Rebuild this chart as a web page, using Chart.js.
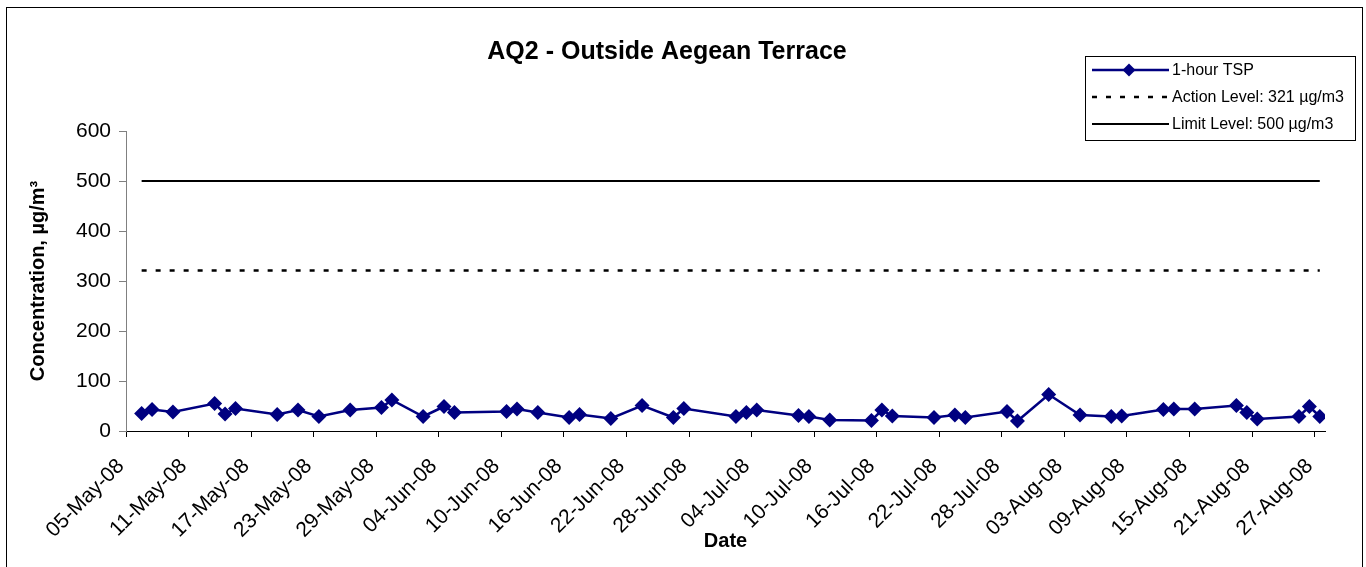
<!DOCTYPE html>
<html>
<head>
<meta charset="utf-8">
<script src="https://cdn.jsdelivr.net/npm/chart.js@4.4.0/dist/chart.umd.min.js"></script>
<style>
  html, body { margin: 0; padding: 0; background: #fff; }
  #wrap { width: 1366px; height: 567px; position: relative; }
</style>
</head>
<body>
<div id="wrap"><canvas id="c" width="1366" height="567"></canvas></div>
<script>
// ---------- DATA ----------
const chartTitle = 'AQ2 - Outside Aegean Terrace';
const xAxisTitle = 'Date';
const yAxisTitle = 'Concentration, µg/m³';
const seriesLabels = ['1-hour TSP', 'Action Level: 321 µg/m3', 'Limit Level: 500 µg/m3'];

const dates = [
  '2008-05-06','2008-05-07','2008-05-09','2008-05-13','2008-05-14','2008-05-15',
  '2008-05-19','2008-05-21','2008-05-23','2008-05-26','2008-05-29','2008-05-30',
  '2008-06-02','2008-06-04','2008-06-05','2008-06-10','2008-06-11','2008-06-13',
  '2008-06-16','2008-06-17','2008-06-20','2008-06-23','2008-06-26','2008-06-27',
  '2008-07-02','2008-07-03','2008-07-04','2008-07-08','2008-07-09','2008-07-11',
  '2008-07-15','2008-07-16','2008-07-17','2008-07-21','2008-07-23','2008-07-24',
  '2008-07-28','2008-07-29','2008-08-01','2008-08-04','2008-08-07','2008-08-08',
  '2008-08-12','2008-08-13','2008-08-15','2008-08-19','2008-08-20','2008-08-21',
  '2008-08-25','2008-08-26','2008-08-27'
];
const tsp = [
  35, 43, 38, 55, 34, 45,
  33, 42, 29, 42, 47, 62,
  29, 49, 37, 39, 44, 37,
  27, 33, 25, 51, 27, 45,
  29, 37, 42, 31, 29, 22,
  21, 42, 30, 27, 32, 27,
  39, 20, 73, 32, 29, 30,
  43, 44, 44, 51, 37, 24,
  29, 49, 29
];
const actionLevel = 321;
const limitLevel = 500;

const axisStartDate = '2008-05-05';
const axisSpanDays = 115;
const xTickStepDays = 6;
const yMin = 0, yMax = 600, yStep = 100;
const monthNames = ['Jan','Feb','Mar','Apr','May','Jun','Jul','Aug','Sep','Oct','Nov','Dec'];

// ---------- helpers ----------
const DAY = 86400000;
function toUTC(s) { const [y, m, d] = s.split('-').map(Number); return Date.UTC(y, m - 1, d); }
const startMs = toUTC(axisStartDate);
function dayPos(s) { return (toUTC(s) - startMs) / DAY + 0.5; } // Excel date axis: points between tick marks
function fmtDay(v) {
  const d = new Date(startMs + Math.round(v) * DAY);
  const dd = String(d.getUTCDate()).padStart(2, '0');
  const yy = String(d.getUTCFullYear() % 100).padStart(2, '0');
  return dd + '-' + monthNames[d.getUTCMonth()] + '-' + yy;
}

const FONT = "'Liberation Sans', Arial, sans-serif";
const NAVY = '#000080';

const tspData = dates.map((d, i) => ({ x: dayPos(d), y: tsp[i] }));
const firstX = dayPos(dates[0]);
const lastX = dayPos(dates[dates.length - 1]);

// ---------- plugins ----------
const framePlugin = {
  id: 'frame',
  beforeDraw(chart) {
    const ctx = chart.ctx;
    ctx.save();
    ctx.fillStyle = '#fff';
    ctx.fillRect(0, 0, chart.width, chart.height);
    ctx.strokeStyle = '#000';
    ctx.lineWidth = 1;
    ctx.strokeRect(6.5, 7.5, 1356, 620);
    ctx.restore();
  }
};

const legendPlugin = {
  id: 'boxLegend',
  afterDraw(chart) {
    const ctx = chart.ctx;
    const bx = 1085.5, by = 56.5, bw = 270, bh = 84;
    ctx.save();
    ctx.strokeStyle = '#000';
    ctx.lineWidth = 1;
    ctx.strokeRect(bx, by, bw, bh);
    const rows = [70, 97, 124];
    chart.data.datasets.forEach((ds, i) => {
      const y = rows[i];
      ctx.save();
      ctx.strokeStyle = ds.borderColor;
      ctx.lineWidth = ds.borderWidth;
      ctx.setLineDash(ds.borderDash || []);
      ctx.beginPath();
      ctx.moveTo(1092, y);
      ctx.lineTo(1169, y);
      ctx.stroke();
      ctx.restore();
      if (ds.pointRadius > 0) {
        ctx.save();
        ctx.fillStyle = ds.pointBackgroundColor;
        const r = 6.5;
        ctx.beginPath();
        ctx.moveTo(1129, y - r);
        ctx.lineTo(1129 + r, y);
        ctx.lineTo(1129, y + r);
        ctx.lineTo(1129 - r, y);
        ctx.closePath();
        ctx.fill();
        ctx.restore();
      }
      ctx.fillStyle = '#000';
      ctx.font = '16px ' + FONT;
      ctx.textAlign = 'left';
      ctx.textBaseline = 'middle';
      ctx.fillText(ds.label, 1172, y + 1);
    });
    ctx.restore();
  }
};

// ---------- chart ----------
new Chart(document.getElementById('c'), {
  type: 'line',
  data: {
    datasets: [
      {
        label: seriesLabels[0],
        data: tspData,
        borderColor: NAVY,
        backgroundColor: NAVY,
        pointBackgroundColor: NAVY,
        pointBorderColor: NAVY,
        borderWidth: 2.5,
        pointStyle: 'rectRot',
        pointRadius: 7.5,
        pointBorderWidth: 0,
        tension: 0,
        order: 0
      },
      {
        label: seriesLabels[1],
        data: [{ x: firstX, y: actionLevel }, { x: lastX, y: actionLevel }],
        borderColor: '#000',
        borderWidth: 2.5,
        borderDash: [5, 9],
        pointRadius: 0,
        tension: 0,
        order: 1
      },
      {
        label: seriesLabels[2],
        data: [{ x: firstX, y: limitLevel }, { x: lastX, y: limitLevel }],
        borderColor: '#000',
        borderWidth: 2,
        pointRadius: 0,
        tension: 0,
        order: 2
      }
    ]
  },
  options: {
    responsive: false,
    animation: false,
    devicePixelRatio: 1,
    layout: { padding: { left: 9, right: 41, top: 0, bottom: 0 } },
    plugins: {
      legend: { display: false },
      tooltip: { enabled: false },
      title: {
        display: true,
        text: chartTitle,
        color: '#000',
        font: { family: FONT, size: 25, weight: 'bold', lineHeight: 1.2 },
        padding: { top: 37, bottom: 64 }
      }
    },
    scales: {
      x: {
        type: 'linear',
        min: 0,
        max: axisSpanDays,
        afterBuildTicks(scale) {
          const t = [];
          for (let v = 0; v < axisSpanDays; v += xTickStepDays) t.push({ value: v });
          scale.ticks = t;
        },
        afterFit(scale) { scale.height = 136; },
        ticks: {
          autoSkip: false,
          minRotation: 45,
          maxRotation: 45,
          padding: 17,
          labelOffset: -5,
          color: '#000',
          font: { family: FONT, size: 21 },
          callback: (v) => fmtDay(v)
        },
        grid: { drawOnChartArea: false, drawTicks: true, tickLength: 6, color: '#000' },
        border: { display: true, color: '#000', width: 1 },
        title: {
          display: true,
          text: xAxisTitle,
          color: '#000',
          font: { family: FONT, size: 20, weight: 'bold', lineHeight: 1.2 },
          padding: { top: 0, bottom: 14 }
        }
      },
      y: {
        type: 'linear',
        min: yMin,
        max: yMax,
        afterFit(scale) { scale.width = 117; },
        ticks: {
          stepSize: yStep,
          padding: 8,
          color: '#000',
          font: { family: FONT, size: 21 }
        },
        grid: { drawOnChartArea: false, drawTicks: true, tickLength: 7, color: '#808080' },
        border: { display: true, color: '#808080', width: 1 },
        title: {
          display: true,
          text: yAxisTitle,
          color: '#000',
          font: { family: FONT, size: 20, weight: 'bold', lineHeight: 1.2 },
          padding: { top: 17, bottom: 0 }
        }
      }
    }
  },
  plugins: [framePlugin, legendPlugin]
});
</script>
</body>
</html>
